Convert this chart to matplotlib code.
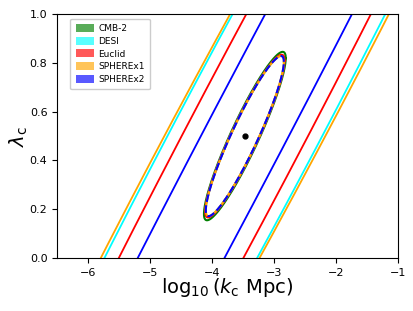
import numpy as np
import matplotlib
matplotlib.use("Agg")
import matplotlib.pyplot as plt
from matplotlib.patches import Patch

# fiducial point
center_logk = -3.47
center_lam = 0.5

# survey names and colours
surveys = ["CMB-2", "DESI", "Euclid", "SPHEREx1", "SPHEREx2"]
colors = ["green", "cyan", "red", "orange", "blue"]

# single-survey (elongated) contours: sigma_logk, sigma_lambda, correlation
band_surveys = ["DESI", "SPHEREx1", "Euclid", "SPHEREx2"]
band_colors = ["cyan", "orange", "red", "blue"]
band_sig_x = [6.3345, 6.4033, 6.2636, 6.2207]
band_sig_y = [3.0, 3.0, 3.0, 3.0]
band_rho = [0.98034, 0.97918, 0.98665, 0.99346]

# combined (closed) contours
comb_surveys = ["CMB-2", "DESI", "Euclid", "SPHEREx1", "SPHEREx2"]
comb_colors = ["green", "cyan", "red", "orange", "blue"]
comb_sig_x = [0.660, 0.635, 0.640, 0.630, 0.630]
comb_sig_y = [0.345, 0.330, 0.333, 0.328, 0.328]
comb_rho = [0.925, 0.927, 0.927, 0.927, 0.927]
comb_styles = ["-", "-", "-", "-", "--"]


def ellipse(sx, sy, rho, n=800):
    cov = np.array([[sx**2, rho*sx*sy], [rho*sx*sy, sy**2]])
    L = np.linalg.cholesky(cov)
    t = np.linspace(0, 2*np.pi, n)
    pts = L @ np.vstack([np.cos(t), np.sin(t)])
    return center_logk + pts[0], center_lam + pts[1]


fig = plt.figure(figsize=(4.14, 3.11), dpi=100)
ax = fig.add_axes([0.138, 0.170, 0.823, 0.785])

for c, sx, sy, r in zip(band_colors, band_sig_x, band_sig_y, band_rho):
    x, y = ellipse(sx, sy, r, n=4000)
    ax.plot(x, y, color=c, lw=1.3)

for c, sx, sy, r, ls in zip(comb_colors, comb_sig_x, comb_sig_y, comb_rho, comb_styles):
    x, y = ellipse(sx, sy, r)
    ax.plot(x, y, color=c, lw=1.5, ls=ls)

ax.plot([center_logk], [center_lam], 'o', color='black', ms=3.5)

ax.set_xlim(-6.5, -1)
ax.set_ylim(0, 1)
ax.set_xticks([-6, -5, -4, -3, -2, -1])
ax.set_yticks([0.0, 0.2, 0.4, 0.6, 0.8, 1.0])
ax.tick_params(labelsize=8)
ax.set_xlabel(r'$\log_{10}(k_{\rm c}\ {\rm Mpc})$', fontsize=14, labelpad=-1)
ax.set_ylabel(r'$\lambda_{\rm c}$', fontsize=14, labelpad=0)

handles = [Patch(facecolor=c, alpha=0.65, label=s) for s, c in zip(surveys, colors)]
ax.legend(handles=handles, loc='upper left', bbox_to_anchor=(0.025, 1.0),
          fontsize=6.5, handlelength=2.0, handleheight=1.0, framealpha=1.0,
          borderpad=0.6, labelspacing=0.4, handletextpad=0.5)

fig.savefig("out.png", dpi=100)
